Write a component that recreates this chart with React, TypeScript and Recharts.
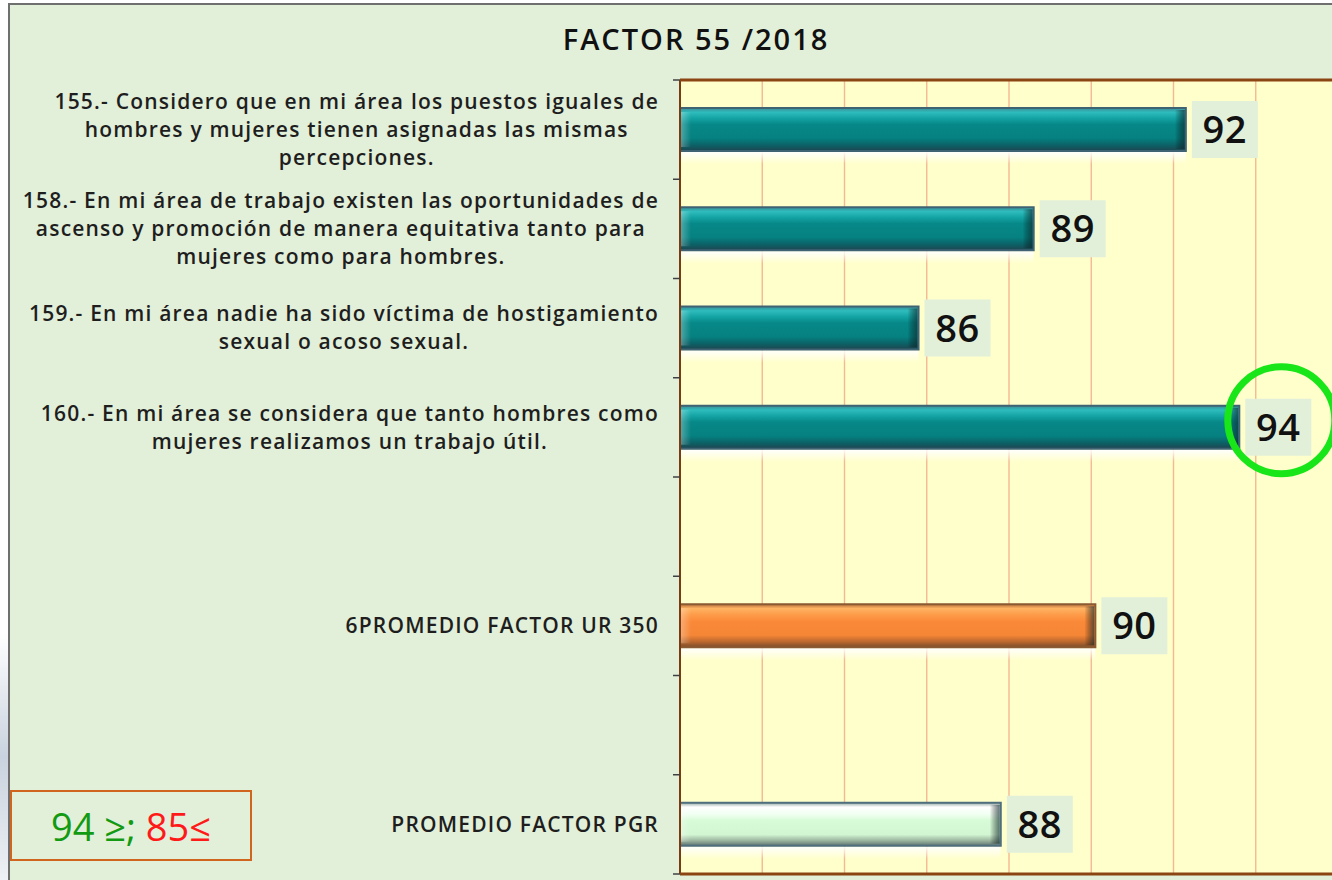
import React from 'react'
import { BarChart, Bar, XAxis, YAxis, CartesianGrid, LabelList } from 'recharts'

// categories top to bottom (empty strings are the blank slots)
const questions = [
  '155.- Considero que en mi área los puestos iguales de\nhombres y mujeres tienen asignadas las mismas\npercepciones.',
  '158.- En mi área de trabajo existen las oportunidades de\nascenso y promoción de manera equitativa tanto para\nmujeres como para hombres.',
  '159.- En mi área nadie ha sido víctima de hostigamiento\nsexual o acoso sexual.',
  '160.- En mi área se considera que tanto hombres como\nmujeres realizamos un trabajo útil.',
  '',
  '6PROMEDIO FACTOR UR 350',
  '',
  'PROMEDIO FACTOR PGR',
]
const scores = [92.3, 88.6, 85.8, 93.6, null, 90.1, null, 87.8]
const kinds = ['item', 'item', 'item', 'item', '', 'ur', '', 'pgr']
const xTicks = [80, 82, 84, 86, 88, 90, 92, 94, 96]
const GOOD = 94
const BAD = 85

const AXIS_X = 680
const PLOT_TOP = 80
const PLOT_BOTTOM = 874
const LABEL_FONT = '600 21px "Open Sans"'
const LABEL_SPACING = 1.2
const BORDER = '#8b4513'

const data = questions.map((q, i) => ({ id: 'c' + i, label: q, score: scores[i], kind: kinds[i] }))

const palettes: Record<string, { stroke: string; stops: [number, string][] }> = {
  item: {
    stroke: '#3f6373',
    stops: [[0, '#3b8d96'], [0.1, '#2fbcbc'], [0.24, '#14a3a3'], [0.38, '#078888'], [0.7, '#068181'], [0.86, '#0b6267'], [1, '#1f4550']],
  },
  ur: {
    stroke: '#8a5a32',
    stops: [[0, '#b8703a'], [0.1, '#ffb463'], [0.25, '#fd9a48'], [0.4, '#fa8a3a'], [0.72, '#f58636'], [0.88, '#b8662e'], [1, '#7a4c2a']],
  },
  pgr: {
    stroke: '#4f6f7e',
    stops: [[0, '#95aca6'], [0.1, '#ffffff'], [0.28, '#effff0'], [0.42, '#d6fbd6'], [0.74, '#d2f6d2'], [0.88, '#9bb59e'], [1, '#5d7474']],
  },
}

let measureCtx: CanvasRenderingContext2D | null = null
function textWidth(s: string) {
  if (!measureCtx) measureCtx = document.createElement('canvas').getContext('2d')
  if (!measureCtx) return s.length * 12
  measureCtx.font = LABEL_FONT
  return measureCtx.measureText(s).width + s.length * LABEL_SPACING
}

function CategoryTick(props: any) {
  const { y, payload } = props
  const i = payload.index
  const slotH = (PLOT_BOTTOM - PLOT_TOP) / questions.length
  const lines = questions[i] ? questions[i].split('\n') : []
  const maxW = Math.max(0, ...lines.map(textWidth))
  const right = AXIS_X - 21
  const cx = right - maxW / 2
  const lh = 28
  const top = y - ((lines.length - 1) * lh) / 2
  const last = i === questions.length - 1
  return (
    <g>
      <line x1={AXIS_X - 7} x2={AXIS_X} y1={y - slotH / 2} y2={y - slotH / 2} stroke="#404040" strokeWidth={1.5} />
      {i === 0 && (
        <line x1={AXIS_X} x2={1340} y1={y - slotH / 2} y2={y - slotH / 2} stroke={BORDER} strokeWidth={3} />
      )}
      {last && (
        <>
          <line x1={AXIS_X - 7} x2={AXIS_X} y1={y + slotH / 2} y2={y + slotH / 2} stroke="#404040" strokeWidth={1.5} />
          <line x1={AXIS_X} x2={1340} y1={y + slotH / 2} y2={y + slotH / 2} stroke={BORDER} strokeWidth={3} />
        </>
      )}
      {lines.map((ln, k) => (
        <text key={k} x={cx} y={top + k * lh} dy="0.35em" textAnchor="middle"
          style={{ font: LABEL_FONT, letterSpacing: LABEL_SPACING }} fill="#1e1e1e">
          {ln}
        </text>
      ))}
    </g>
  )
}

function BevelBar(props: any) {
  const { x, y, width, height, index, payload } = props
  if (!width || width <= 0) return null
  const pal = palettes[payload.kind] || palettes.item
  const gid = 'barg' + index
  const rid = 'barr' + index
  const eid = 'bare' + index
  const lid = 'barl' + index
  return (
    <g>
      <defs>
        <linearGradient id={gid} x1="0" y1="0" x2="0" y2="1">
          {pal.stops.map(([o, c], k) => <stop key={k} offset={o} stopColor={c} />)}
        </linearGradient>
        <linearGradient id={rid} x1="0" y1="0" x2="0" y2="1">
          <stop offset="0" stopColor="#ffffff" stopOpacity={0.95} />
          <stop offset="1" stopColor="#ffffff" stopOpacity={0} />
        </linearGradient>
        <linearGradient id={eid} x1="0" y1="0" x2="1" y2="0">
          <stop offset="0" stopColor="#000000" stopOpacity={0} />
          <stop offset="1" stopColor="#102a30" stopOpacity={0.65} />
        </linearGradient>
        <linearGradient id={lid} x1="0" y1="0" x2="1" y2="0">
          <stop offset="0" stopColor="#ffffff" stopOpacity={0.28} />
          <stop offset="1" stopColor="#ffffff" stopOpacity={0} />
        </linearGradient>
      </defs>
      <rect x={x} y={y + height + 1} width={width} height={12} fill={`url(#${rid})`} />
      <rect x={x} y={y} width={width} height={height} fill={`url(#${gid})`} />
      <rect x={x + width - 11} y={y + 2} width={10} height={height - 4} fill={`url(#${eid})`} />
      <rect x={x + 1} y={y + 4} width={10} height={height - 8} fill={`url(#${lid})`} />
      <rect x={x} y={y} width={width} height={height} fill="none" stroke={pal.stroke} strokeWidth={2} />
    </g>
  )
}

function ValueLabel(props: any) {
  const { x, y, width, height, value, index } = props
  if (value == null) return null
  const shown = Math.round(value)
  const bx = x + width + 6
  const cy = y + height / 2
  const bw = 66
  const bh = 57
  const ring = kinds[index] === 'item' && shown >= GOOD
  return (
    <g>
      <rect x={bx} y={cy - bh / 2} width={bw} height={bh} fill="#e2efd9" />
      <text x={bx + bw / 2} y={cy} dy="0.36em" textAnchor="middle"
        style={{ font: '600 38px "Open Sans"', letterSpacing: 0.5 }} fill="#111">
        {shown}
      </text>
      {ring && (
        <circle cx={bx + bw / 2 + 3} cy={cy - 7} r={53.5} fill="none" stroke="#19e619" strokeWidth={7} />
      )}
    </g>
  )
}

function gridX({ xAxis, offset }: any) {
  const lo = xTicks[0]
  const hi = xTicks[xTicks.length - 1]
  return xTicks.map((t) =>
    xAxis && typeof xAxis.scale === 'function'
      ? xAxis.scale(t)
      : offset.left + ((t - lo) / (hi - lo)) * offset.width
  )
}

export default function App() {
  return (
    <div style={{ position: 'absolute', left: 0, top: 0, width: 1332, height: 880, overflow: 'hidden',
      background: 'linear-gradient(180deg, #ffffff 0%, #ffffff 72%, #c9d2de 86%, #eef1f5 100%)' }}>
      <div style={{ position: 'absolute', left: 8, top: 3, right: 0, bottom: 0, background: '#e2efd9',
        borderLeft: '2px solid #6f6f6f', borderTop: '2px solid #6f6f6f' }} />
      <div style={{ position: 'absolute', left: 0, top: 0 }}>
        <BarChart width={1338} height={880} data={data} layout="vertical" barSize={43}
          margin={{ top: PLOT_TOP, right: 0, bottom: 880 - PLOT_BOTTOM, left: 0 }}>
          <CartesianGrid horizontal={false} vertical fill="#ffffcc" fillOpacity={1}
            stroke="#f4b893" strokeWidth={1.4} verticalCoordinatesGenerator={gridX} />
          <XAxis type="number" domain={[80, 96]} ticks={xTicks} allowDataOverflow hide />
          <YAxis type="category" dataKey="id" width={AXIS_X} interval={0} tickLine={false}
            axisLine={{ stroke: '#7a3a12', strokeWidth: 2 }} tick={<CategoryTick />} />
          <Bar dataKey="score" isAnimationActive={false} shape={<BevelBar />}>
            <LabelList dataKey="score" content={<ValueLabel />} />
          </Bar>
        </BarChart>
      </div>
      <div style={{ position: 'absolute', left: 8, right: 0, top: 19, textAlign: 'center',
        font: '600 29px "Open Sans"', letterSpacing: 2, color: '#111', paddingLeft: 52 }}>
        FACTOR 55 /2018
      </div>
      <div style={{ position: 'absolute', left: 10, top: 790, width: 242, height: 71,
        border: '2px solid #d0661e', boxSizing: 'border-box', display: 'flex', alignItems: 'center',
        justifyContent: 'center', font: '400 38px "Open Sans"' }}>
        <span style={{ color: '#129a12' }}>{GOOD} ≥;&nbsp;</span>
        <span style={{ color: '#ff1a1a' }}>{BAD}≤</span>
      </div>
    </div>
  )
}
